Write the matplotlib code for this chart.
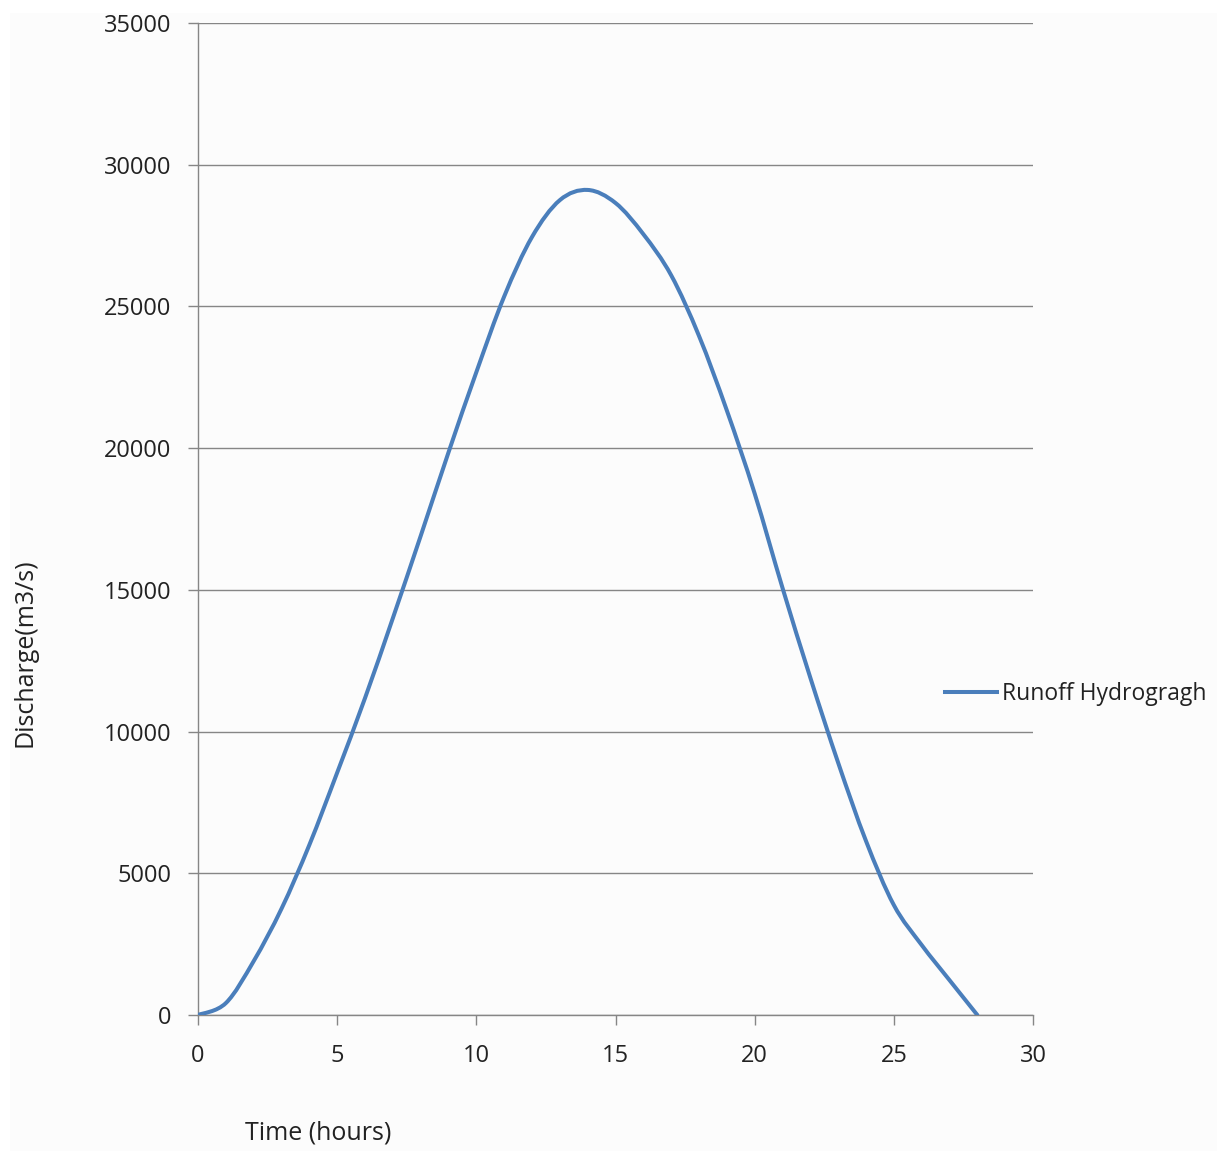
import matplotlib.pyplot as plt
from matplotlib.path import Path
from matplotlib.patches import PathPatch, Rectangle
from matplotlib.lines import Line2D
import numpy as np

# hourly runoff readings
hours = [0, 1, 2, 3, 4, 5, 6, 7, 8, 9, 10, 11, 12, 13, 14,
         15, 16, 17, 18, 19, 20, 21, 22, 23, 24, 25, 26, 27, 28]
discharge = [0, 420, 1900, 3750, 6000, 8550, 11180, 14000, 16900, 19850,
             22680, 25350, 27450, 28750, 29110, 28650, 27550, 26100, 23960,
             21330, 18400, 15070, 11900, 8900, 6140, 3880, 2470, 1230, 0]

x_ticks = [0, 5, 10, 15, 20, 25, 30]
y_ticks = [0, 5000, 10000, 15000, 20000, 25000, 30000, 35000]

LINE_COLOR = "#4a7ebb"
AXIS_COLOR = "#868686"
TEXT_COLOR = "#222222"

plt.rcParams['font.family'] = ['Open Sans', 'DejaVu Sans']


def smooth_path(xs, ys, tension=1.0 / 6):
    # cubic bezier through every point, like a spreadsheet "smoothed line"
    pts = np.column_stack([xs, ys]).astype(float)
    verts = [pts[0]]
    codes = [Path.MOVETO]
    n = len(pts)
    for i in range(n - 1):
        p0 = pts[i - 1] if i > 0 else pts[i]
        p1 = pts[i]
        p2 = pts[i + 1]
        p3 = pts[i + 2] if i + 2 < n else pts[i + 1]
        c1 = p1 + (p2 - p0) * tension
        c2 = p2 - (p3 - p1) * tension
        verts += [c1, c2, p2]
        codes += [Path.CURVE4] * 3
    return Path(verts, codes)


fig = plt.figure(figsize=(12.17, 11.51), dpi=100)
fig.patch.set_facecolor("white")
fig.patches.append(Rectangle((10 / 1217, 0.0), 1.0, 1 - 13 / 1151,
                             transform=fig.transFigure, facecolor="#fcfcfc",
                             edgecolor="none", zorder=-10))

ax = fig.add_axes([198 / 1217, 1 - 1015 / 1151, 835 / 1217, 992 / 1151])
ax.set_facecolor("none")

patch = PathPatch(smooth_path(hours, discharge), facecolor="none",
                  edgecolor=LINE_COLOR, linewidth=2.9, capstyle="round",
                  joinstyle="round", zorder=3)
ax.add_patch(patch)

ax.set_xlim(0, 30)
ax.set_ylim(0, 35000)
ax.set_xticks(x_ticks)
ax.set_yticks(y_ticks)

ax.grid(axis="y", color=AXIS_COLOR, linewidth=1.0)
ax.set_axisbelow(True)
for side in ("top", "right"):
    ax.spines[side].set_visible(False)
for side in ("left", "bottom"):
    ax.spines[side].set_color(AXIS_COLOR)
    ax.spines[side].set_linewidth(1.0)

ax.tick_params(axis="both", colors=AXIS_COLOR, length=7, width=1.0,
               labelcolor=TEXT_COLOR, labelsize=17)
ax.tick_params(axis="y", pad=12)
ax.tick_params(axis="x", pad=14)

fig.text(245 / 1217, 1 - 1133 / 1151, "Time (hours)", fontsize=18,
         color=TEXT_COLOR, ha="left", va="center")
fig.text(25 / 1217, 1 - 653 / 1151, "Discharge(m3/s)", fontsize=18,
         color=TEXT_COLOR, ha="center", va="center", rotation=90)

handle = Line2D([], [], color=LINE_COLOR, linewidth=2.9)
fig.legend([handle], ["Runoff Hydrogragh"], loc="center left",
           bbox_to_anchor=(924 / 1217, 1 - 694 / 1151), frameon=False,
           fontsize=16.5, handlelength=2.3, handletextpad=0.2,
           labelcolor=TEXT_COLOR)

fig.savefig("out.png", dpi=100)
